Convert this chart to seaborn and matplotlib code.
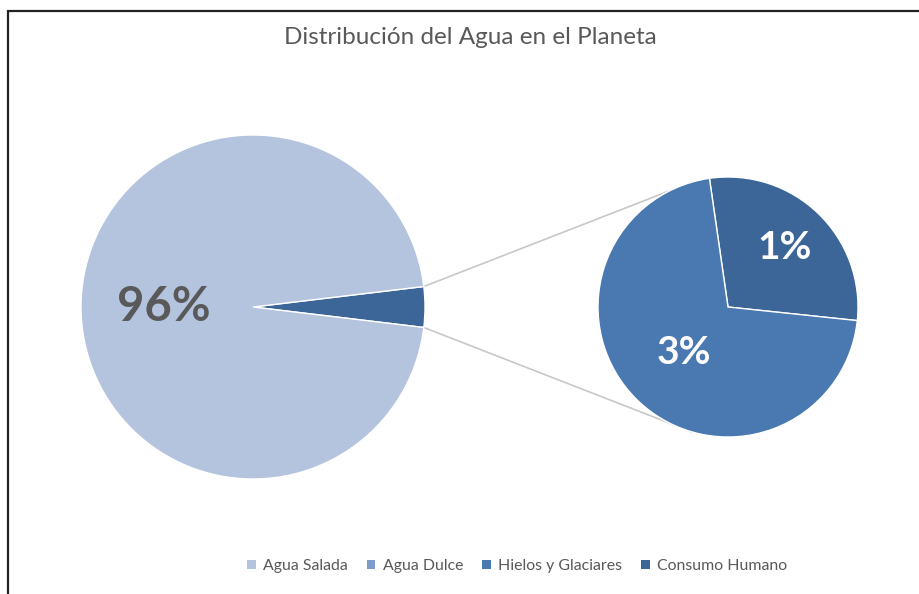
import numpy as np
import matplotlib
matplotlib.use("Agg")
import matplotlib.pyplot as plt
from matplotlib.patches import Patch, Rectangle
import seaborn as sns

# datos (porcentajes aproximados)
categorias = ["Agua Salada", "Agua Dulce", "Hielos y Glaciares", "Consumo Humano"]
colores = ["#b4c3de", "#7d9cca", "#4a78b0", "#3c6698"]
agua_salada = 96.2
hielos = 2.7
consumo = 1.1
etiquetas = ["96%", "3%", "1%"]

sns.set_theme(style="white")
plt.rcParams["font.family"] = ["Lato", "DejaVu Sans"]

fig = plt.figure(figsize=(9.2, 5.94), dpi=100)
ax = fig.add_axes([0, 0, 1, 1])

# pastel principal
c1, r1 = (253, 287), 172
otros = hielos + consumo
ang_otros = otros / (otros + agua_salada) * 360
w1, _ = ax.pie([otros, agua_salada], colors=[colores[3], colores[0]],
               startangle=-ang_otros / 2, center=c1, radius=r1,
               wedgeprops=dict(edgecolor="white", linewidth=1))
ax.text(c1[0] - 0.52 * r1, c1[1], etiquetas[0], ha="center", va="center",
        fontsize=34, fontweight="bold", color="#595959")

# pastel secundario
c2, r2 = (728, 287), 130
w2, _ = ax.pie([consumo, hielos], colors=[colores[3], colores[2]],
               startangle=-6, center=c2, radius=r2,
               wedgeprops=dict(edgecolor="white", linewidth=1))
for w, lab, d in zip([w2[1], w2[0]], etiquetas[1:], [0.49, 0.63]):
    a = np.deg2rad((w.theta1 + w.theta2) / 2)
    ax.text(c2[0] + d * r2 * np.cos(a), c2[1] + d * r2 * np.sin(a), lab,
            ha="center", va="center", fontsize=28, fontweight="bold", color="white")

# lineas de conexion
for s in (1, -1):
    a1 = np.deg2rad(s * ang_otros / 2)
    a2 = np.deg2rad(s * 106)
    ax.plot([c1[0] + r1 * np.cos(a1), c2[0] + r2 * np.cos(a2)],
            [c1[1] + r1 * np.sin(a1), c2[1] + r2 * np.sin(a2)],
            color="#c8c8c8", linewidth=1.2, zorder=0)

ax.set_xlim(0, 920)
ax.set_ylim(0, 594)
ax.set_aspect("equal")
ax.axis("off")

fig.text(470 / 920, 1 - 37 / 594, "Distribución del Agua en el Planeta",
         ha="center", va="center", fontsize=17.5, color="#595959")

handles = [Patch(facecolor=c, edgecolor="none") for c in colores]
fig.legend(handles, categorias, loc="center", bbox_to_anchor=(517 / 920, 1 - 566 / 594),
           ncol=4, frameon=False, fontsize=11.4, labelcolor="#595959",
           handlelength=0.55, handleheight=0.55, handletextpad=0.45, columnspacing=1.2)

# borde del grafico
fig.add_artist(Rectangle((8 / 920, -0.1), 1.2, 1 - 10.5 / 594 + 0.1,
                         transform=fig.transFigure, fill=False,
                         edgecolor="#222222", linewidth=1.6))

fig.savefig("out.png", dpi=100)
